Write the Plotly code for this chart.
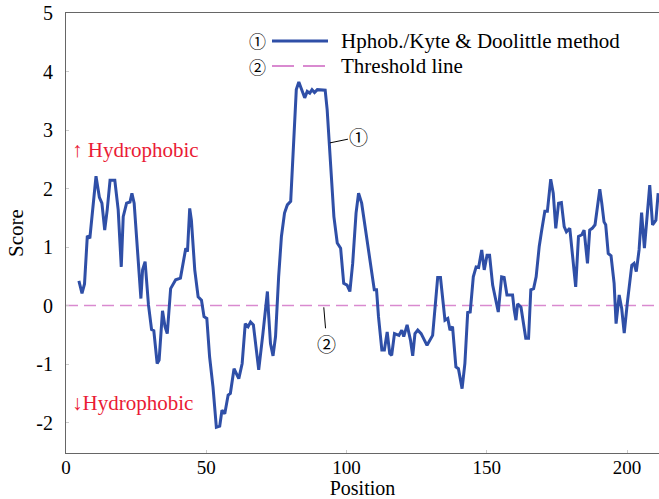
import plotly.graph_objects as go

# Hydropathy profile (Kyte & Doolittle)
position = [4.6, 5.7, 6.6, 7.6, 8.5, 9.5, 10.7, 11.9, 12.8, 13.8, 14.7, 15.7, 17.4, 18.6, 19.7,
            20.4, 21.6, 22.8, 23.5, 24.3, 25.7, 26.7, 27.3, 28.2, 29.4, 30.5, 31.3, 32.5, 33.2,
            34.4, 35.3, 36.1, 37.3, 39.1, 40.8, 42.0, 42.7, 43.3, 44.1, 44.7, 45.9, 47.1, 48.3,
            49.2, 50.2, 51.2, 52.4, 53.6, 54.8, 55.6, 56.6, 57.8, 58.6, 59.9, 61.6, 62.8, 63.9,
            64.9, 65.8, 66.8, 68.7, 70.2, 71.1, 71.8, 72.2, 72.9, 73.8, 74.7, 75.8, 76.8, 77.9,
            78.9, 80.1, 80.9, 82.1, 83.0, 84.1, 85.1, 86.0, 86.9, 87.7, 88.6, 89.6, 92.4, 93.1,
            93.9, 94.6, 95.5, 96.7, 97.9, 99.0, 100.2, 101.2, 102.2, 103.4, 104.3, 105.4, 106.6,
            107.6, 108.2, 109.1, 109.9, 110.7, 111.4, 112.6, 113.5, 114.5, 115.4, 116.1, 117.1,
            118.7, 119.7, 120.4, 121.6, 122.8, 123.6, 124.4, 125.4, 126.6, 128.0, 128.7, 130.7,
            131.6, 132.5, 133.5, 134.3, 135.1, 136.1, 136.9, 137.8, 139.0, 139.9, 141.2, 142.2,
            143.2, 144.1, 145.2, 146.2, 147.1, 148.2, 149.1, 150.1, 151.0, 152.1, 153.3, 154.1,
            155.3, 156.2, 157.2, 159.2, 159.8, 160.4, 161.0, 162.2, 163.9, 164.9, 165.7, 166.7,
            167.6, 168.7, 169.5, 170.7, 171.6, 172.8, 173.7, 174.6, 175.6, 176.6, 177.6, 178.4,
            179.6, 180.5, 181.7, 182.7, 183.9, 184.7, 185.9, 186.7, 187.6, 188.6, 189.4, 190.3,
            191.0, 191.8, 192.4, 193.3, 194.3, 195.4, 196.1, 197.2, 198.1, 199.0, 200.1, 201.0,
            201.7, 202.5, 203.3, 204.3, 205.2, 206.2, 206.9, 208.1, 209.1, 210.3, 211.1]
score = [0.42, 0.21, 0.37, 1.19, 1.15, 1.69, 2.21, 1.85, 1.75, 1.29, 1.64, 2.14, 2.14, 1.64, 0.66,
         1.52, 1.75, 1.77, 1.92, 1.75, 0.72, 0.12, 0.61, 0.75, 0.01, -0.41, -0.43, -0.99, -0.93,
         -0.09, -0.36, -0.48, 0.29, 0.44, 0.47, 0.84, 0.98, 0.92, 1.66, 1.46, 0.61, 0.15, 0.09,
         -0.19, -0.22, -0.88, -1.39, -2.08, -2.06, -1.79, -1.85, -1.53, -1.50, -1.08, -1.25, -0.99, -0.31,
         -0.36, -0.28, -0.33, -1.10, -0.48, -0.08, 0.24, -0.13, -0.65, -0.86, -0.53, 0.49, 1.18, 1.58,
         1.72, 1.78, 2.55, 3.69, 3.82, 3.69, 3.55, 3.66, 3.63, 3.69, 3.64, 3.69, 3.68, 3.35,
         2.72, 2.15, 1.52, 1.07, 0.98, 0.38, 0.35, 0.24, 0.72, 1.58, 1.92, 1.75, 1.35,
         1.07, 0.84, 0.49, 0.27, 0.27, -0.19, -0.76, -0.76, -0.45, -0.82, -0.85, -0.48,
         -0.51, -0.42, -0.53, -0.33, -0.59, -0.86, -0.48, -0.42, -0.48, -0.62, -0.68, -0.51,
         0.04, 0.48, 0.48, 0.15, -0.25, -0.22, -0.42, -0.36, -1.05, -1.08, -1.42, -0.99,
         -0.12, -0.11, 0.49, 0.66, 0.65, 0.95, 0.61, 0.86, 0.86, 0.35, 0.09, -0.11,
         0.49, 0.48, 0.18, 0.18, -0.08, -0.25, 0.03, -0.03, -0.56, -0.56, 0.27, 0.29,
         0.49, 1.01, 1.26, 1.61, 1.61, 2.16, 1.92, 1.32, 1.75, 1.76, 1.35, 1.26,
         1.32, 0.84, 0.32, 1.18, 1.21, 1.29, 0.72, 1.29, 1.32, 1.38, 1.69, 1.99,
         1.75, 1.43, 1.38, 0.89, 0.85, 0.38, -0.31, 0.18, -0.05, -0.47, 0.04, 0.38,
         0.69, 0.72, 0.58, 0.95, 1.59, 0.98, 1.35, 2.06, 1.38, 1.46, 1.92]

threshold_x = [0, 212]
threshold_y = [0, 0]

x_ticks = [0, 50, 100, 150, 200]
y_ticks = [-2, -1, 0, 1, 2, 3, 4, 5]
y_tick_text = ["-2", "-1", "0", "1", "2", "3", "4", "5"]

series_names = ["Hphob./Kyte & Doolittle method", "Threshold line"]
markers = ["\u2460", "\u2461"]

BLUE = "#2f4fa7"
PINK = "#d98ad0"
RED = "#ea1b35"
SERIF = "Liberation Serif"
CIRC = "Noto Sans CJK SC"

fig = go.Figure()
fig.add_trace(go.Scatter(x=threshold_x, y=threshold_y, mode="lines",
                         line=dict(color=PINK, width=1.5, dash="12px,6px"),
                         name=series_names[1], showlegend=False, hoverinfo="skip"))
fig.add_trace(go.Scatter(x=position, y=score, mode="lines",
                         line=dict(color=BLUE, width=3),
                         name=series_names[0], showlegend=False))

annotations = []
# Legend (manual)
legend_rows = [28, 53]
for i, (mk, nm) in enumerate(zip(markers, series_names)):
    yp = 1 - legend_rows[i] / 440
    annotations.append(dict(xref="paper", yref="paper", x=(257 - 66) / 593, y=yp,
                            text=mk, showarrow=False, xanchor="center", yanchor="middle",
                            font=dict(family=CIRC, size=17, color="black")))
    annotations.append(dict(xref="paper", yref="paper", x=(339 - 66) / 593, y=yp,
                            text=nm, showarrow=False, xanchor="left", yanchor="middle",
                            font=dict(family=SERIF, size=21, color="black")))

shapes = [
    dict(type="line", xref="paper", yref="paper", x0=(272 - 66) / 593, x1=(328 - 66) / 593,
         y0=1 - legend_rows[0] / 440, y1=1 - legend_rows[0] / 440, line=dict(color=BLUE, width=3)),
    dict(type="line", xref="paper", yref="paper", x0=(272 - 66) / 593, x1=(328 - 66) / 593,
         y0=1 - legend_rows[1] / 440, y1=1 - legend_rows[1] / 440,
         line=dict(color=PINK, width=2, dash="22px,9px")),
]

# Hydrophobic labels
annotations.append(dict(xref="paper", yref="paper", x=(70 - 66) / 593, y=(453 - 150) / 440,
                        text="\u2191 Hydrophobic", showarrow=False, xanchor="left", yanchor="middle",
                        font=dict(family=SERIF, size=21, color=RED)))
annotations.append(dict(xref="paper", yref="paper", x=(70 - 66) / 593, y=(453 - 403) / 440,
                        text="\u2193Hydrophobic", showarrow=False, xanchor="left", yanchor="middle",
                        font=dict(family=SERIF, size=21, color=RED)))

# Callouts
annotations.append(dict(x=94.1, y=2.78, xref="x", yref="y", text=markers[0], showarrow=True,
                        arrowhead=0, arrowwidth=1, arrowcolor="black", ax=29, ay=-6,
                        font=dict(family=CIRC, size=19, color="black")))
annotations.append(dict(x=91.9, y=-0.03, xref="x", yref="y", text=markers[1], showarrow=True,
                        arrowhead=0, arrowwidth=1, arrowcolor="black", ax=3, ay=36,
                        font=dict(family=CIRC, size=19, color="black")))

fig.update_layout(
    width=659, height=499,
    margin=dict(l=66, r=0, t=13, b=46),
    paper_bgcolor="white", plot_bgcolor="white",
    showlegend=False,
    annotations=annotations, shapes=shapes,
    font=dict(family=SERIF, color="black"),
    xaxis=dict(range=[0, 211.4], tickvals=x_ticks, showgrid=False, zeroline=False,
               showline=True, linecolor="#666", linewidth=1, mirror=True,
               ticks="inside", ticklen=3, tickcolor="#ccc", ticklabelstandoff=-3,
               tickfont=dict(family=SERIF, size=19, color="black"),
               title=dict(text="Position", font=dict(family=SERIF, size=20, color="black"), standoff=0)),
    yaxis=dict(range=[-2.52, 5.0], tickvals=y_ticks, ticktext=y_tick_text, showgrid=False, zeroline=False,
               showline=True, linecolor="#666", linewidth=1,
               ticks="inside", ticklen=3, tickcolor="#ccc", ticklabelstandoff=8,
               tickfont=dict(family=SERIF, size=20, color="black"),
               title=dict(text="Score", font=dict(family=SERIF, size=21, color="black"), standoff=6)),
)

fig.write_html("out.html", config={"displayModeBar": False},
               post_script="document.body.style.margin='0';document.body.style.overflow='hidden';")
